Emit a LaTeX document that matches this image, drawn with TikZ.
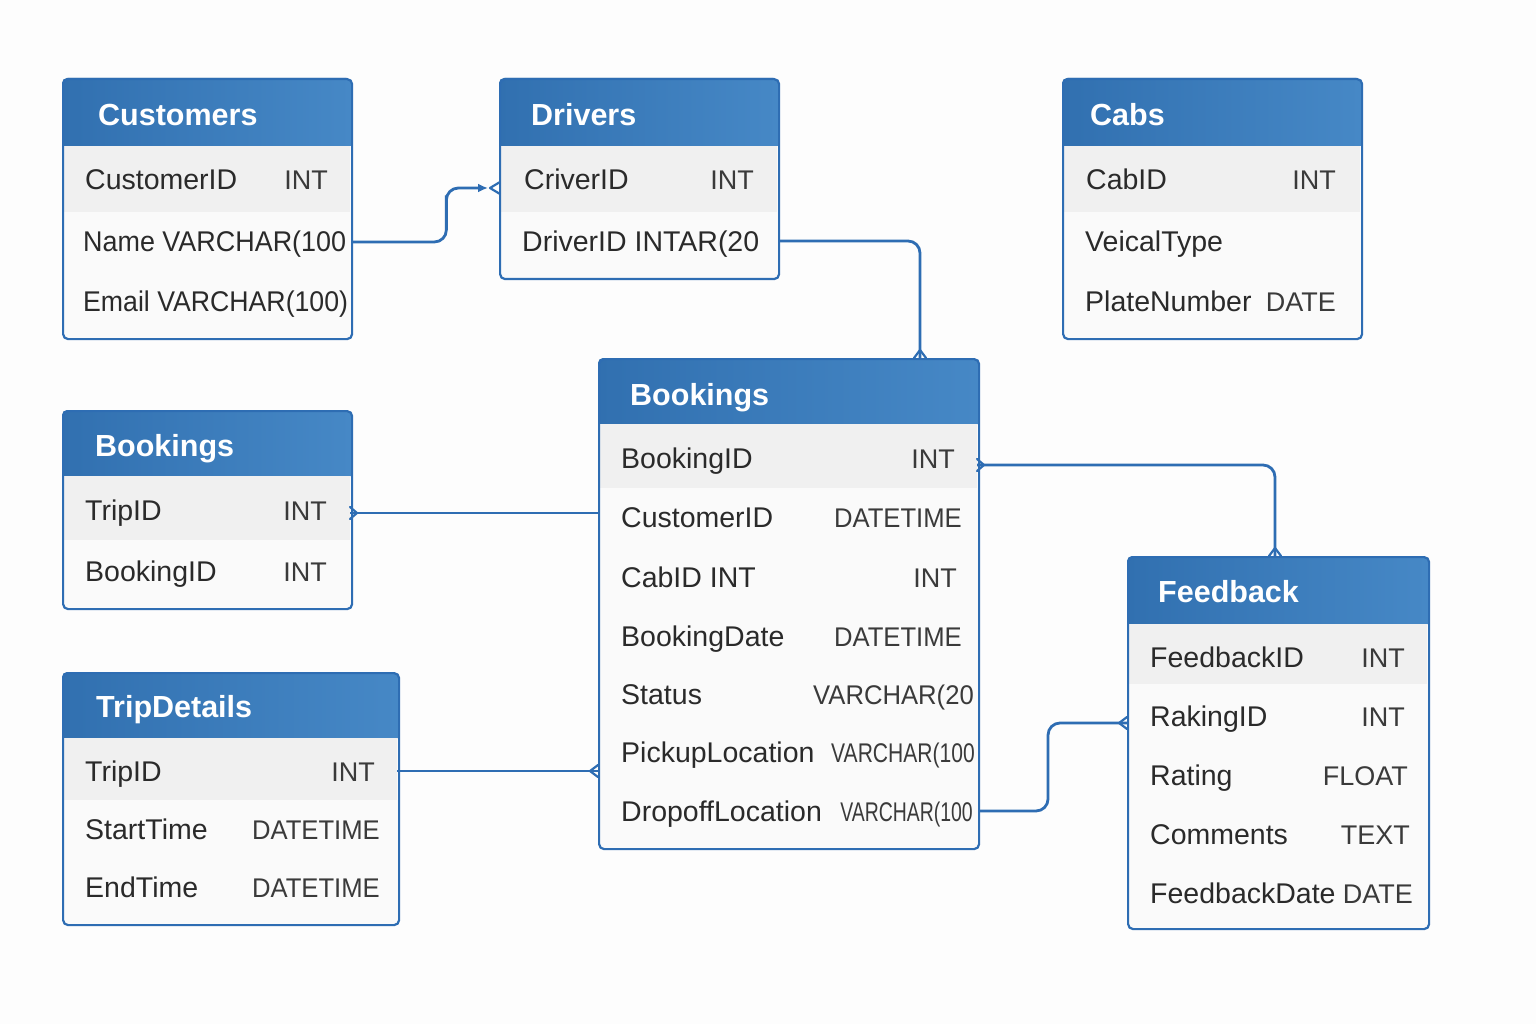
\documentclass[tikz,border=0pt]{standalone}
\usepackage{fontspec}
\usepackage{graphicx}
\setmainfont{Liberation Sans}
\usetikzlibrary{calc,arrows.meta}
\definecolor{bordc}{HTML}{2E6DB3}
\definecolor{hdrA}{HTML}{3170B0}
\definecolor{hdrB}{HTML}{4688C6}
\definecolor{rowsh}{HTML}{F0F0F0}
\definecolor{bodyc}{HTML}{FAFAFA}
\definecolor{txtc}{HTML}{2A2A2A}
\definecolor{typc}{HTML}{3A3A3A}
\definecolor{bgc}{HTML}{FDFDFD}
\tikzset{
 tbox/.style={draw=bordc, line width=2.2pt, rounded corners=5pt, inner sep=0pt, anchor=north west},
 rowbox/.style={inner sep=0pt, outer sep=0pt, anchor=north west},
 shadedrow/.style={fill=rowsh},
 hdrtxt/.style={text=white, font=\fontsize{30.5}{32}\selectfont\bfseries, inner sep=0pt, anchor=base west},
 fldtxt/.style={text=txtc, font=\fontsize{28.5}{30}\selectfont, inner sep=0pt, anchor=base west},
 typtxt/.style={text=typc, font=\fontsize{27}{30}\selectfont, inner sep=0pt, anchor=base east},
 conn/.style={draw=bordc, line width=2.8pt, rounded corners=12pt},
 foot/.style={draw=bordc, line width=2.2pt, line join=round, line cap=round},
}
% table background + header: x1,y1,x2,y2,yh
\newcommand{\etable}[5]{%
 \fill[bodyc, rounded corners=5pt] (#1,#2) rectangle (#3,#4);
 \shade[left color=hdrA, right color=hdrB] (#1,#5) [rounded corners=5pt] -- (#1,#2) -- (#3,#2) [sharp corners] -- (#3,#5) -- cycle;
}
% row node: name,x1,y1,x2,y2,style
\newcommand{\erow}[6]{%
 \node[rowbox,#6,minimum width={(#4-#2)*1pt},minimum height={(#5-#3)*1pt}] (#1) at (#2,#3) {};
}
% outline node: name,x1,y1,x2,y2
\newcommand{\eframe}[5]{%
 \node[tbox,minimum width={(#4-#2)*1pt},minimum height={(#5-#3)*1pt}] (#1) at (#2,#3) {};
}
\begin{document}
\begin{tikzpicture}[x=1pt,y=-1pt]
\useasboundingbox (0,0) rectangle (1536,1024);
\fill[bgc] (0,0) rectangle (1536,1024);

% ---------- Customers ----------
\etable{62}{78}{351}{338}{146}
\erow{cust-r1}{63}{146}{350}{212}{shadedrow}
\erow{cust-r2}{62}{212}{351}{272}{}
\erow{cust-r3}{62}{272}{351}{338}{}
\eframe{cust}{62}{78}{351}{338}
\node[hdrtxt] (cust-t) at (98,126) {Customers};
\node[fldtxt] (cust-f1) at (85,190) {CustomerID};
\node[typtxt] (cust-y1) at (328,190) {INT};
\node[fldtxt] (cust-f2) at (83,252) {\scalebox{0.945}[1]{Name VARCHAR(100}};
\node[fldtxt] (cust-f3) at (83,312) {\scalebox{0.936}[1]{Email VARCHAR(100)}};

% ---------- Drivers ----------
\etable{499}{78}{778}{278}{146}
\erow{drv-r1}{500}{146}{777}{212}{shadedrow}
\erow{drv-r2}{499}{212}{778}{278}{}
\eframe{drv}{499}{78}{778}{278}
\node[hdrtxt] (drv-t) at (531,126) {Drivers};
\node[fldtxt] (drv-f1) at (524,190) {CriverID};
\node[typtxt] (drv-y1) at (754,190) {INT};
\node[fldtxt] (drv-f2) at (522,252) {DriverID INTAR(20};

% ---------- Cabs ----------
\etable{1062}{78}{1361}{338}{146}
\erow{cab-r1}{1063}{146}{1360}{212}{shadedrow}
\erow{cab-r2}{1062}{212}{1361}{272}{}
\erow{cab-r3}{1062}{272}{1361}{338}{}
\eframe{cab}{1062}{78}{1361}{338}
\node[hdrtxt] (cab-t) at (1090,126) {Cabs};
\node[fldtxt] (cab-f1) at (1086,190) {CabID};
\node[typtxt] (cab-y1) at (1336,190) {INT};
\node[fldtxt] (cab-f2) at (1085,252) {VeicalType};
\node[fldtxt] (cab-f3) at (1085,312) {PlateNumber};
\node[typtxt] (cab-y3) at (1336,312) {DATE};

% ---------- Bookings (left) ----------
\etable{62}{410}{351}{608}{476}
\erow{bkl-r1}{63}{476}{350}{540}{shadedrow}
\erow{bkl-r2}{62}{540}{351}{608}{}
\eframe{bkl}{62}{410}{351}{608}
\node[hdrtxt] (bkl-t) at (95,456) {Bookings};
\node[fldtxt] (bkl-f1) at (85,520) {TripID};
\node[typtxt] (bkl-y1) at (327,520) {INT};
\node[fldtxt] (bkl-f2) at (85,581) {BookingID};
\node[typtxt] (bkl-y2) at (327,581) {INT};

% ---------- TripDetails ----------
\etable{62}{672}{398}{924}{738}
\erow{trp-r1}{63}{738}{397}{800}{shadedrow}
\erow{trp-r2}{62}{800}{398}{858}{}
\erow{trp-r3}{62}{858}{398}{924}{}
\eframe{trp}{62}{672}{398}{924}
\node[hdrtxt] (trp-t) at (96,717) {TripDetails};
\node[fldtxt] (trp-f1) at (85,781) {TripID};
\node[typtxt] (trp-y1) at (375,781) {INT};
\node[fldtxt] (trp-f2) at (85,839) {StartTime};
\node[typtxt] (trp-y2) at (380,839) {\scalebox{0.95}[1]{DATETIME}};
\node[fldtxt] (trp-f3) at (85,897) {EndTime};
\node[typtxt] (trp-y3) at (380,897) {\scalebox{0.95}[1]{DATETIME}};

% ---------- Bookings (center) ----------
\etable{598}{358}{978}{848}{424}
\erow{bkc-r1}{599}{424}{977}{488}{shadedrow}
\erow{bkc-r2}{598}{488}{978}{547}{}
\erow{bkc-r3}{598}{547}{978}{606}{}
\erow{bkc-r4}{598}{606}{978}{665}{}
\erow{bkc-r5}{598}{665}{978}{723}{}
\erow{bkc-r6}{598}{723}{978}{782}{}
\erow{bkc-r7}{598}{782}{978}{848}{}
\eframe{bkc}{598}{358}{978}{848}
\node[hdrtxt] (bkc-t) at (630,405) {Bookings};
\node[fldtxt] (bkc-f1) at (621,468) {BookingID};
\node[typtxt] (bkc-y1) at (955,468) {INT};
\node[fldtxt] (bkc-f2) at (621,527) {CustomerID};
\node[typtxt] (bkc-y2) at (962,527) {\scalebox{0.95}[1]{DATETIME}};
\node[fldtxt] (bkc-f3) at (621,587) {CabID INT};
\node[typtxt] (bkc-y3) at (957,587) {INT};
\node[fldtxt] (bkc-f4) at (621,646) {BookingDate};
\node[typtxt] (bkc-y4) at (962,646) {\scalebox{0.95}[1]{DATETIME}};
\node[fldtxt] (bkc-f5) at (621,704) {Status};
\node[typtxt] (bkc-y5) at (974,704) {\scalebox{0.95}[1]{VARCHAR(20}};
\node[fldtxt] (bkc-f6) at (621,762) {PickupLocation};
\node[typtxt] (bkc-y6) at (975,762) {\scalebox{0.78}[1]{VARCHAR(100}};
\node[fldtxt] (bkc-f7) at (621,821) {DropoffLocation};
\node[typtxt] (bkc-y7) at (973,821) {\scalebox{0.72}[1]{VARCHAR(100}};

% ---------- Feedback ----------
\etable{1127}{556}{1428}{928}{624}
\erow{fb-r1}{1128}{624}{1427}{684}{shadedrow}
\erow{fb-r2}{1127}{684}{1428}{744}{}
\erow{fb-r3}{1127}{744}{1428}{804}{}
\erow{fb-r4}{1127}{804}{1428}{864}{}
\erow{fb-r5}{1127}{864}{1428}{928}{}
\eframe{fb}{1127}{556}{1428}{928}
\node[hdrtxt] (fb-t) at (1158,602) {Feedback};
\node[fldtxt] (fb-f1) at (1150,667) {FeedbackID};
\node[typtxt] (fb-y1) at (1405,667) {INT};
\node[fldtxt] (fb-f2) at (1150,726) {RakingID};
\node[typtxt] (fb-y2) at (1405,726) {INT};
\node[fldtxt] (fb-f3) at (1150,785) {Rating};
\node[typtxt] (fb-y3) at (1408,785) {FLOAT};
\node[fldtxt] (fb-f4) at (1150,844) {Comments};
\node[typtxt] (fb-y4) at (1410,844) {TEXT};
\node[fldtxt] (fb-f5) at (1150,903) {FeedbackDate};
\node[typtxt] (fb-y5) at (1413,903) {DATE};

% ---------- Connectors ----------
% Customers -> Drivers
\coordinate (c1b) at ($(drv-r1.west)+(0,9)$);
\draw[conn, -{Latex[length=10pt,width=9pt]}] (cust-r2.east) -| ($(cust-r2.east)!0.64!(c1b)$) |- ($(c1b)+(-12,0)$);
\draw[foot] ($(c1b)+(0,-6)$) -- ($(c1b)+(-10,0)$) -- ($(c1b)+(0,6)$);

% Drivers -> Bookings
\coordinate (c2b) at ($(bkc.north west)+(322,0)$);
\draw[conn] ($(drv-r2.east)+(0,-4)$) -| (c2b);
\draw[foot] ($(c2b)+(-6,0)$) -- ($(c2b)+(0,-8)$) -- ($(c2b)+(6,0)$);

% Bookings(left) -> Bookings
\coordinate (c3) at ($(bkl-r1.east)+(0,5)$);
\draw[conn] (c3) -- (c3 -| bkc.west);
\draw[foot] ($(c3)+(0,-6)$) -- ($(c3)+(7,0)$) -- ($(c3)+(0,6)$);

% TripDetails -> Bookings
\coordinate (c4) at ($(trp-r1.east)+(0,2)$);
\coordinate (c4b) at (c4 -| bkc.west);
\draw[conn] (c4) -- (c4b);
\draw[foot] ($(c4b)+(0,-6)$) -- ($(c4b)+(-8,0)$) -- ($(c4b)+(0,6)$);

% Bookings -> Feedback (top)
\coordinate (c5) at ($(bkc-r1.east)+(0,9)$);
\coordinate (c5b) at ($(fb.north west)+(148,0)$);
\draw[conn] (c5) -| (c5b);
\draw[foot] ($(c5)+(0,-6)$) -- ($(c5)+(7,0)$) -- ($(c5)+(0,6)$);
\draw[foot] ($(c5b)+(-6,0)$) -- ($(c5b)+(0,-8)$) -- ($(c5b)+(6,0)$);

% Bookings -> Feedback (side)
\coordinate (c6) at ($(bkc-r7.east)+(0,-4)$);
\coordinate (c6b) at ($(fb-r2.west)+(0,9)$);
\draw[conn] (c6) -| ($(c6)!0.47!(c6b)$) |- (c6b);
\draw[foot] ($(c6b)+(0,-6)$) -- ($(c6b)+(-8,0)$) -- ($(c6b)+(0,6)$);
\end{tikzpicture}
\end{document}
